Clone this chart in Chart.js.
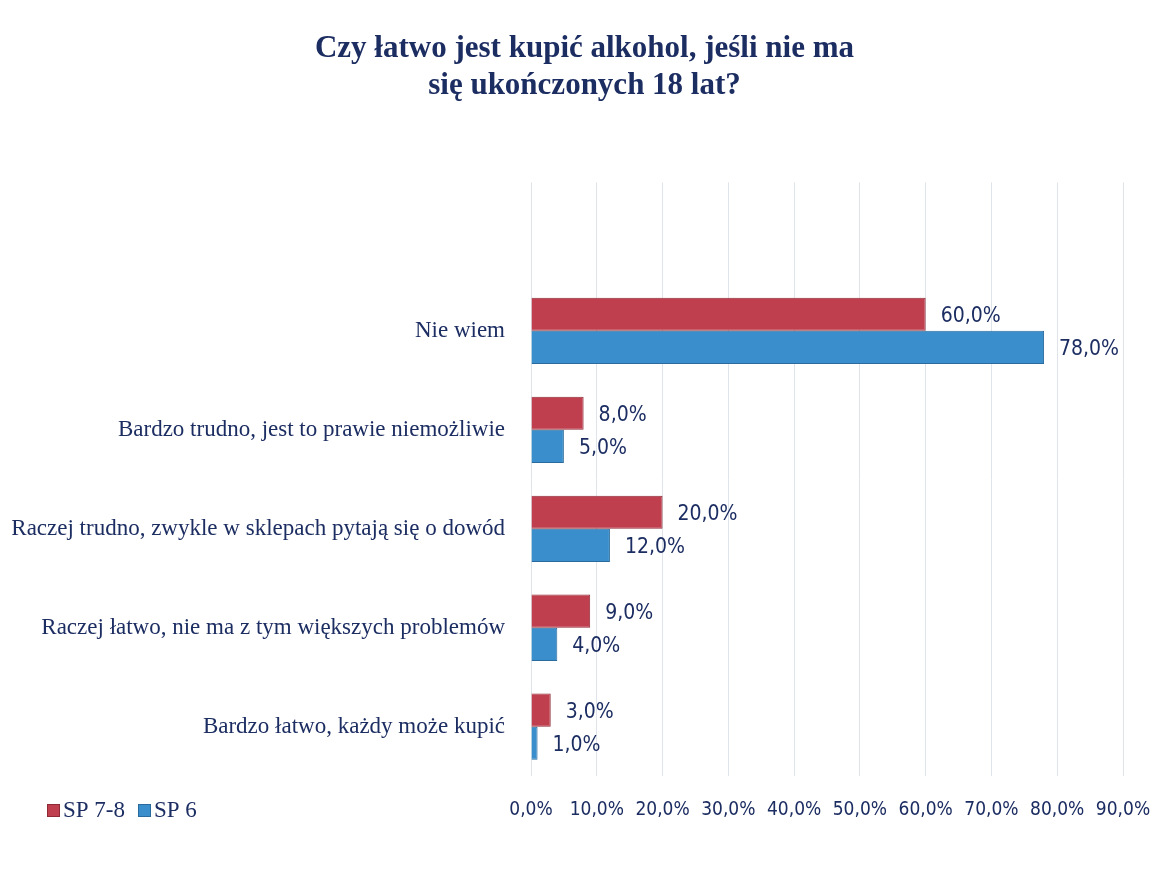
<!DOCTYPE html>
<html>
<head>
<meta charset="utf-8">
<script src="https://cdn.jsdelivr.net/npm/chart.js@4/dist/chart.umd.min.js"></script>
<style>
  html, body { margin: 0; padding: 0; background: #fff; }
  #wrap { position: relative; width: 1157px; height: 881px; }
</style>
</head>
<body>
<div id="wrap"><canvas id="chart"></canvas></div>
<script>
// first category is the empty slot Excel left at the top of the plot
const categories = [
  '',
  'Nie wiem',
  'Bardzo trudno, jest to prawie niemożliwie',
  'Raczej trudno, zwykle w sklepach pytają się o dowód',
  'Raczej łatwo, nie ma z tym większych problemów',
  'Bardzo łatwo, każdy może kupić'
]
const seriesNames = ['SP 7-8', 'SP 6']
const sp78Values = [null, 60, 8, 20, 9, 3]
const sp6Values = [null, 78, 5, 12, 4, 1]
const xMin = 0
const xMax = 90
const xStep = 10

const navy = '#1c2d62'
const serif = "'Liberation Serif', 'Times New Roman', serif"
const narrow = "'DejaVu Sans Condensed', 'DejaVu Sans', sans-serif"

const fmt = v => v.toFixed(1).replace('.', ',') + '%'

const valueLabels = {
  id: 'valueLabels',
  afterDatasetsDraw(chart) {
    const ctx = chart.ctx
    ctx.save()
    ctx.font = '21px ' + narrow
    ctx.fillStyle = navy
    ctx.textBaseline = 'middle'
    ctx.textAlign = 'left'
    chart.data.datasets.forEach((ds, i) => {
      chart.getDatasetMeta(i).data.forEach((bar, j) => {
        const v = ds.data[j]
        if (v == null) return
        ctx.fillText(fmt(v), bar.x + 15, bar.y + 2)
      })
    })
    ctx.restore()
  }
}

// legend sits on the tick row, at the far left
const sideLegend = {
  id: 'sideLegend',
  afterDraw(chart) {
    const ctx = chart.ctx
    const y = 810
    let x = 47
    ctx.save()
    ctx.font = '23px ' + serif
    ctx.textBaseline = 'middle'
    chart.data.datasets.forEach(ds => {
      ctx.fillStyle = ds.backgroundColor
      ctx.fillRect(x, y - 6, 13, 13)
      ctx.strokeStyle = ds.borderColor
      ctx.lineWidth = 1
      ctx.strokeRect(x + 0.5, y - 5.5, 12, 12)
      ctx.fillStyle = navy
      ctx.fillText(ds.label, x + 16, y + 1)
      x += 16 + ctx.measureText(ds.label).width + 13
    })
    ctx.restore()
  }
}

new Chart(document.getElementById('chart'), {
  type: 'bar',
  data: {
    labels: categories,
    datasets: [
      {
        label: seriesNames[0],
        data: sp78Values,
        backgroundColor: '#bf3f4e',
        borderColor: '#8e2a36',
        borderWidth: 1
      },
      {
        label: seriesNames[1],
        data: sp6Values,
        backgroundColor: '#3a8ecb',
        borderColor: '#2a6a9c',
        borderWidth: 1
      }
    ]
  },
  options: {
    indexAxis: 'y',
    responsive: true,
    maintainAspectRatio: false,
    animation: false,
    layout: {
      padding: { left: 12, right: 0, top: 0, bottom: 38 }
    },
    datasets: {
      bar: { categoryPercentage: 0.67, barPercentage: 1 }
    },
    scales: {
      x: {
        min: xMin,
        max: xMax,
        afterFit(scale) { scale.paddingRight = 34 },
        ticks: {
          stepSize: xStep,
          padding: 22,
          color: navy,
          font: { family: narrow, size: 19 },
          callback: v => fmt(v)
        },
        grid: { color: '#dfe4ea', drawTicks: false },
        border: { display: false }
      },
      y: {
        afterFit(scale) { scale.width = 519 },
        ticks: {
          padding: 18,
          color: navy,
          font: { family: serif, size: 23 }
        },
        grid: { display: false },
        border: { display: false }
      }
    },
    plugins: {
      legend: { display: false },
      tooltip: { enabled: false },
      title: {
        display: true,
        text: ['Czy łatwo jest kupić alkohol, jeśli nie ma', 'się ukończonych 18 lat?'],
        color: navy,
        font: { family: serif, size: 31, weight: 'bold', lineHeight: 1.2 },
        padding: { top: 30, bottom: 78 }
      }
    }
  },
  plugins: [valueLabels, sideLegend]
})
</script>
</body>
</html>
